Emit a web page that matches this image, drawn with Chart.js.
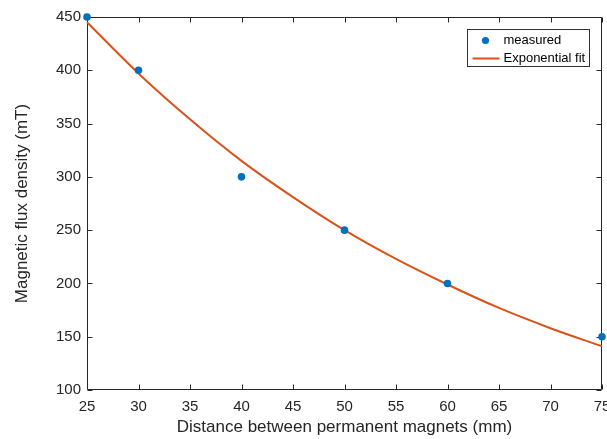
<!DOCTYPE html>
<html>
<head>
<meta charset="utf-8">
<script src="https://cdn.jsdelivr.net/npm/chart.js@4.4.1/dist/chart.umd.min.js"></script>
<style>
  html, body { margin: 0; padding: 0; background: #ffffff; }
  #wrap { width: 607px; height: 439px; }
</style>
</head>
<body>
<div id="wrap"><canvas id="c" width="607" height="439"></canvas></div>
<script>
// Measured flux density between two permanent magnets
const distances = [25, 30, 40, 50, 60, 75];
const fluxMeasured = [450, 400, 300, 250, 200, 150];

// Exponential fit curve, sampled every 5 mm
const fitDistances = [25, 30, 35, 40, 45, 50, 55, 60, 65, 70, 75];
const fluxFit = [445, 397, 354, 315, 281, 250, 223, 199, 177, 158, 141];

// Axis ticks
const xTicks = [25, 30, 35, 40, 45, 50, 55, 60, 65, 70, 75];
const yTicks = [100, 150, 200, 250, 300, 350, 400, 450];

const seriesLabels = ['measured', 'Exponential fit'];
const blue = '#0072BD';
const orange = '#D95319';
const ink = '#262626';
const fontFamily = '"Liberation Sans", Arial, Helvetica, sans-serif';

// Box around the axes with inward tick marks on all four sides
const framePlugin = {
  id: 'frame',
  beforeDatasetsDraw(chart) {
    const { ctx, chartArea: a, scales: { x, y } } = chart;
    const L = a.left + 0.5, R = a.right - 0.5, T = a.top + 0.5, B = a.bottom - 0.5;
    const len = 5;
    ctx.save();
    ctx.strokeStyle = ink;
    ctx.lineWidth = 1;
    ctx.beginPath();
    ctx.rect(L, T, R - L, B - T);
    xTicks.forEach(v => {
      const px = Math.round(x.getPixelForValue(v)) + 0.5;
      ctx.moveTo(px, B); ctx.lineTo(px, B - len);
      ctx.moveTo(px, T); ctx.lineTo(px, T + len);
    });
    yTicks.forEach(v => {
      const py = Math.round(y.getPixelForValue(v)) + 0.5;
      ctx.moveTo(L, py); ctx.lineTo(L + len, py);
      ctx.moveTo(R, py); ctx.lineTo(R - len, py);
    });
    ctx.stroke();
    ctx.restore();
  }
};

// Legend box in the upper right corner of the axes
const legendPlugin = {
  id: 'boxLegend',
  afterDraw(chart) {
    const { ctx, chartArea: a } = chart;
    const ds = chart.data.datasets;
    const w = 122, h = 37;
    const bx = a.right - 13 - w + 0.5, by = a.top + 12 + 0.5;
    ctx.save();
    ctx.fillStyle = '#ffffff';
    ctx.fillRect(bx, by, w, h);
    ctx.strokeStyle = '#333333';
    ctx.lineWidth = 1;
    ctx.strokeRect(bx, by, w, h);
    ctx.font = '13px ' + fontFamily;
    ctx.textBaseline = 'middle';
    ctx.textAlign = 'left';
    const row1 = by + 11, row2 = by + 29;
    // marker entry
    ctx.beginPath();
    ctx.fillStyle = ds[0].backgroundColor;
    ctx.arc(bx + 18, row1, 3.6, 0, Math.PI * 2);
    ctx.fill();
    // line entry
    ctx.beginPath();
    ctx.strokeStyle = ds[1].borderColor;
    ctx.lineWidth = 2;
    ctx.moveTo(bx + 5, row2);
    ctx.lineTo(bx + 32, row2);
    ctx.stroke();
    ctx.fillStyle = '#000000';
    ctx.fillText(ds[0].label, bx + 36, row1);
    ctx.fillText(ds[1].label, bx + 36, row2);
    ctx.restore();
  }
};

new Chart(document.getElementById('c'), {
  type: 'scatter',
  data: {
    datasets: [
      {
        label: seriesLabels[0],
        data: distances.map((d, i) => ({ x: d, y: fluxMeasured[i] })),
        backgroundColor: blue,
        borderColor: blue,
        pointRadius: 3.8,
        pointBorderWidth: 0,
        showLine: false,
        clip: false,
        order: 0
      },
      {
        label: seriesLabels[1],
        data: fitDistances.map((d, i) => ({ x: d, y: fluxFit[i] })),
        borderColor: orange,
        backgroundColor: orange,
        borderWidth: 2,
        pointRadius: 0,
        showLine: true,
        cubicInterpolationMode: 'monotone',
        clip: false,
        order: 1
      }
    ]
  },
  options: {
    responsive: false,
    devicePixelRatio: 1,
    animation: false,
    layout: { padding: { top: 17, right: 5, left: 0, bottom: 0 } },
    plugins: { legend: { display: false }, tooltip: { enabled: false } },
    scales: {
      x: {
        type: 'linear',
        min: xTicks[0],
        max: xTicks[xTicks.length - 1],
        afterBuildTicks: s => { s.ticks = xTicks.map(v => ({ value: v })); },
        afterFit: s => { s.height = 49; s.paddingLeft = 0; s.paddingRight = 0; },
        grid: { display: false, drawTicks: false },
        border: { display: false },
        ticks: { color: ink, padding: 8, maxRotation: 0, autoSkip: false,
                 font: { size: 15, family: fontFamily } },
        title: { display: true, text: 'Distance between permanent magnets (mm)', color: ink,
                 padding: { top: 0, bottom: 1 }, font: { size: 17, family: fontFamily } }
      },
      y: {
        type: 'linear',
        min: yTicks[0],
        max: yTicks[yTicks.length - 1],
        afterBuildTicks: s => { s.ticks = yTicks.map(v => ({ value: v })); },
        afterFit: s => { s.width = 87; s.paddingTop = 0; s.paddingBottom = 0; },
        grid: { display: false, drawTicks: false },
        border: { display: false },
        ticks: { color: ink, padding: 6, autoSkip: false,
                 font: { size: 15, family: fontFamily } },
        title: { display: true, text: 'Magnetic flux density (mT)', color: ink,
                 padding: { top: 12, bottom: 0 }, font: { size: 17, family: fontFamily } }
      }
    }
  },
  plugins: [framePlugin, legendPlugin]
});
</script>
</body>
</html>
